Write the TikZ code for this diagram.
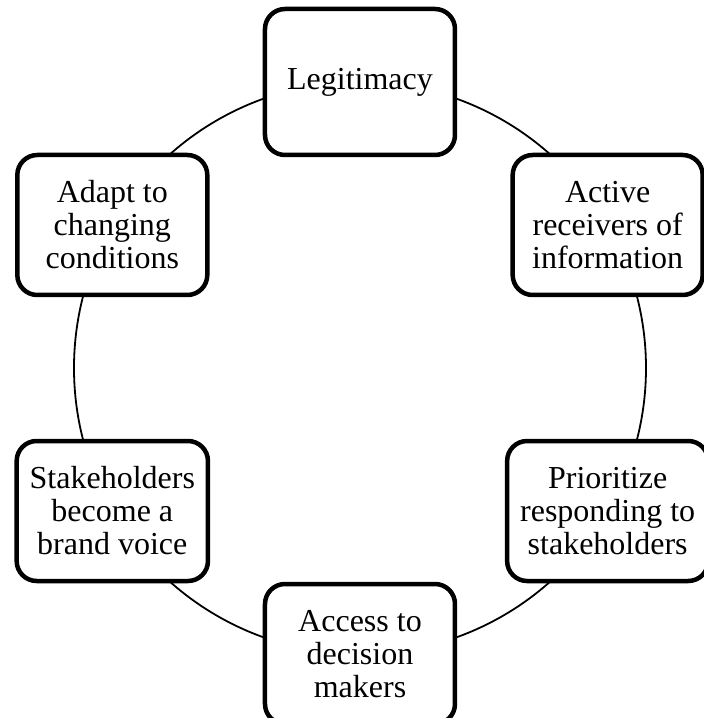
\documentclass[tikz,border=0pt]{standalone}
\usepackage{fontspec}
\setmainfont{Liberation Serif}
\begin{document}
\begin{tikzpicture}[x=1pt, y=1pt]
	    \tikzset{stage/.style={draw, line width=4.5pt, rounded corners=20pt, fill=white,
	        align=center, minimum width=190pt, minimum height=140pt, inner xsep=13pt,
	        font=\fontsize{32}{33}\selectfont}}
	    \useasboundingbox (-360,-350) rectangle (344,368);
	    \coordinate (0) at (0,0);
	    % the cycle runs behind the boxes
	    \draw [line width=1.8pt] (0) circle (286);
	    \node [stage, minimum height=146pt] (legit) at (90:286) {Legitimacy};
	    \node [stage] (active) at (30:286) {Active\\receivers of\\information};
	    \node [stage] (prior) at (-30:286) {Prioritize\\responding to\\stakeholders};
	    \node [stage] (access) at (-90:286) {Access to\\decision\\makers};
	    \node [stage] (voice) at (-150:286) {Stakeholders\\become a\\brand voice};
	    \node [stage] (adapt) at (150:286) {Adapt to\\changing\\conditions};
\end{tikzpicture}
\end{document}
